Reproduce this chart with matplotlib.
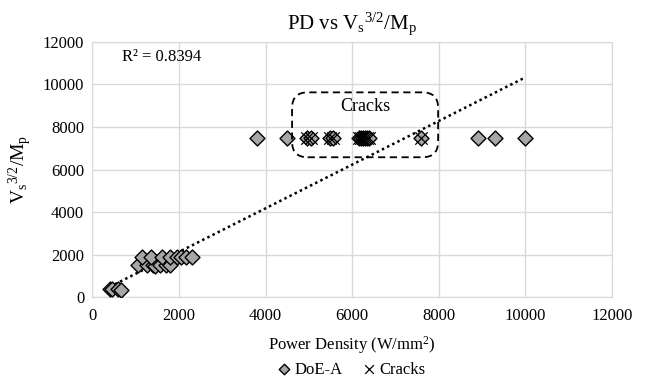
import numpy as np
import matplotlib
matplotlib.use("Agg")
import matplotlib.pyplot as plt
from matplotlib.patches import FancyBboxPatch

plt.rcParams["font.family"] = ["Liberation Serif", "DejaVu Serif"]
plt.rcParams["mathtext.fontset"] = "custom"
plt.rcParams["mathtext.rm"] = "Liberation Serif"
plt.rcParams["mathtext.it"] = "Liberation Serif:italic"

# DoE-A points (power density, Vs^1.5/Mp)
doe_x = [400, 450, 600, 650,
         1050, 1250, 1400, 1450, 1550, 1700, 1800,
         1150, 1350, 1600, 1800, 1950, 2050, 2150, 2300,
         3800, 4500, 4950, 5050, 5500, 5550, 6150, 6200, 6250, 6300,
         6350, 6400, 7600, 8900, 9300, 10000]
doe_y = [400, 380, 400, 350,
         1500, 1500, 1500, 1450, 1500, 1500, 1500,
         1900, 1900, 1900, 1900, 1900, 1900, 1900, 1900,
         7500, 7500, 7500, 7500, 7500, 7500, 7500, 7500, 7500, 7500,
         7500, 7500, 7500, 7500, 7500, 7500]

# cracked samples
crack_x = [4950, 5050, 5500, 5550, 6150, 6200, 6250, 6300, 6350, 6400, 7600]
crack_y = [7500] * len(crack_x)

# linear trendline as shown in the chart (Excel fit)
trend_slope = 1.024
trend_intercept = 84
r2_text = "R² = 0.8394"

fig = plt.figure(figsize=(6.48, 3.83), dpi=100)
ax = fig.add_axes([0.1427, 0.2237, 0.8013, 0.6673])

grid_c = "#d9d9d9"
ax.set_xlim(0, 12000)
ax.set_ylim(0, 12000)
ax.set_xticks(np.arange(0, 12001, 2000))
ax.set_yticks(np.arange(0, 12001, 2000))
ax.grid(True, color=grid_c, lw=1.0)
ax.set_axisbelow(True)
for s in ax.spines.values():
    s.set_color(grid_c)
ax.tick_params(length=0, labelsize=12, colors="black")
ax.tick_params(axis="x", pad=8)
ax.tick_params(axis="y", pad=6)

ax.scatter(doe_x, doe_y, marker="D", s=58, c="#a6a6a6", edgecolors="black",
           linewidths=1.0, zorder=3, label="DoE-A")
ax.scatter(crack_x, crack_y, marker="x", s=80, c="black", linewidths=0.9,
           zorder=4, label="Cracks")

xs = np.array([min(doe_x), max(doe_x)])
ax.plot(xs, trend_slope * xs + trend_intercept, ls=(0, (1, 1.3)),
        color="black", lw=1.8, zorder=2)

ax.text(0.057, 0.939, r2_text, transform=ax.transAxes, fontsize=12,
        va="center", ha="left")

# dashed rounded box around cracks
bx0, bx1 = (292 - 92.5) / 519, (438 - 92.5) / 519
by0, by1 = (297.3 - 157) / 256, (297.3 - 92) / 256
box = FancyBboxPatch((bx0, by0), bx1 - bx0, by1 - by0,
                     boxstyle="round,pad=0,rounding_size=0.03",
                     mutation_aspect=519 / 256, transform=ax.transAxes,
                     fill=False, ls=(0, (4, 2.5)), lw=1.3, ec="black", zorder=5)
ax.add_patch(box)
ax.text(6300, 8980, "Cracks", fontsize=13, ha="center", va="center")

ax.set_title(r"PD vs V$_\mathrm{s}{}^\mathrm{3/2}$/M$_\mathrm{p}$", fontsize=15, pad=9)
ax.set_xlabel("Power Density (W/mm$^\\mathrm{2}$)", fontsize=12, labelpad=7)
ax.set_ylabel(r"V$_\mathrm{s}{}^\mathrm{3/2}$/M$_\mathrm{p}$", fontsize=14, labelpad=6)

h, l = ax.get_legend_handles_labels()
fig.legend(h, l, loc="lower center", bbox_to_anchor=(0.54, -0.025), ncol=2,
           frameon=False, fontsize=12, handletextpad=0.0, columnspacing=1.0,
           markerscale=0.7, handlelength=1.2)

fig.savefig("out.png", dpi=100)
